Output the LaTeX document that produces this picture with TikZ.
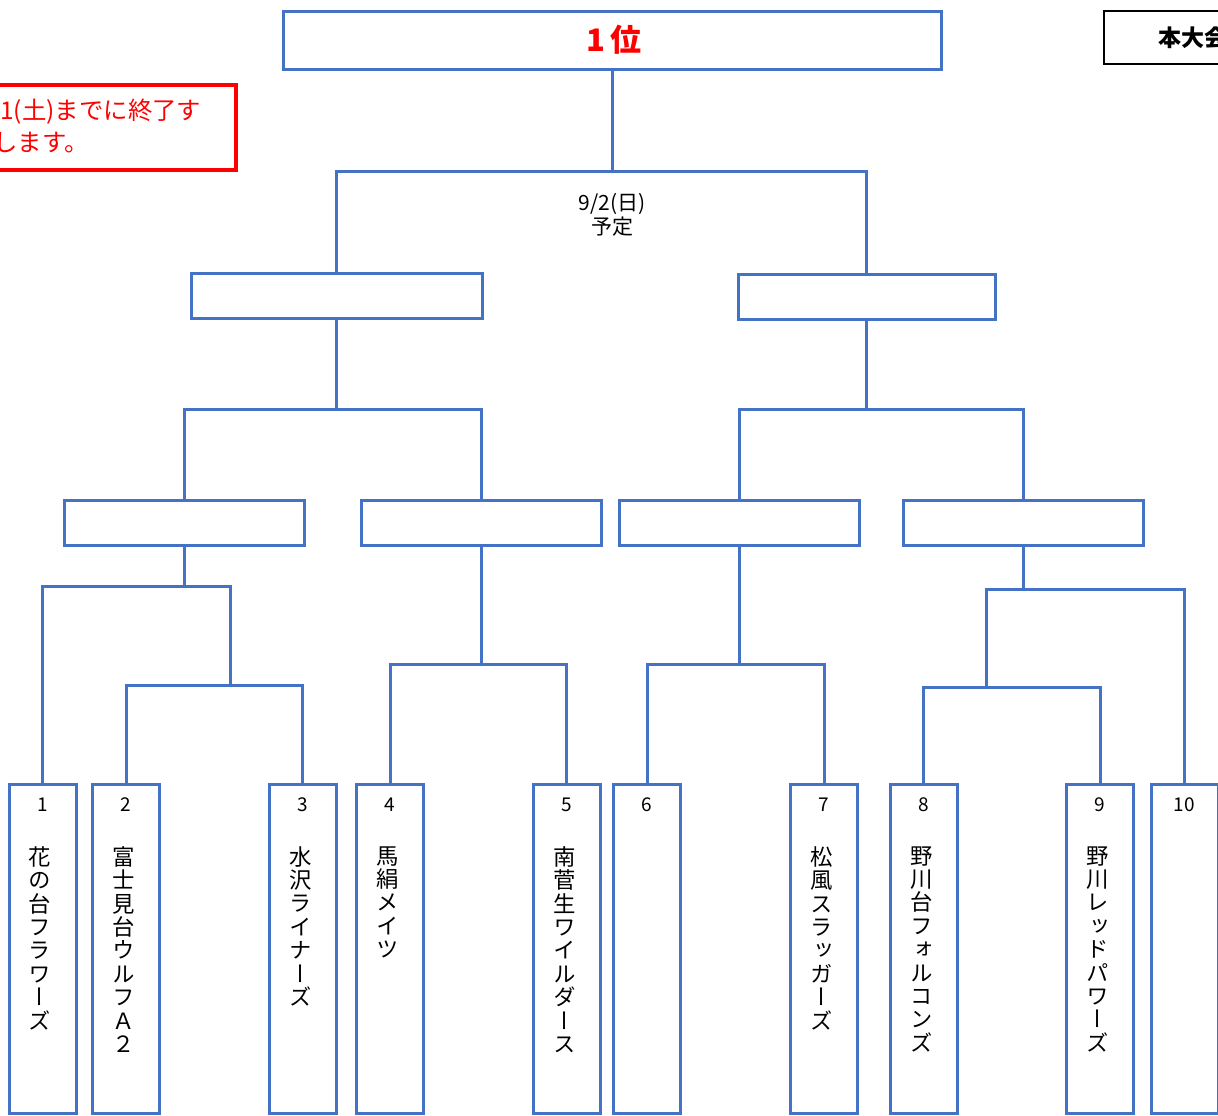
\documentclass[tikz,border=0pt]{standalone}
\usepackage{fontspec}
\setmainfont{Noto Sans CJK JP}
\newfontfamily\vjp[RawFeature=+vert]{Noto Sans CJK JP}
\definecolor{bl}{HTML}{4472C4}
\definecolor{rd}{HTML}{FF0000}
\begin{document}
\begin{tikzpicture}[x=0.5pt,y=-0.5pt,
  box/.style={draw=bl,line width=1.5pt,inner sep=0pt,outer sep=0pt},
  semibox/.style={box,minimum height=22.5pt},
  team/.style={box,minimum width=33.5pt,minimum height=164.5pt},
  conn/.style={draw=bl,line width=1.5pt},
  num/.style={font=\fontsize{9.5}{11}\selectfont,inner sep=0pt},
  tname/.style={font=\vjp\fontsize{11.2}{11.7}\selectfont,align=center,anchor=north,inner sep=0pt}]
\useasboundingbox (0,0) rectangle (1218,1115);
\clip (0,0) rectangle (1218,1115);

% final
\node[box,minimum width=329pt,minimum height=29pt] (top) at (612,40) {};
\node[text=rd,font=\bfseries\fontsize{15.5}{18}\selectfont] (toptxt) at (614,40) {1\,位};

% semifinals
\node[semibox,minimum width=145.5pt] (s1) at (336.5,295.5) {};
\node[semibox,minimum width=128.5pt] (s2) at (866.5,296.5) {};
\node[font=\fontsize{10.5}{12}\selectfont,align=center,inner sep=0pt] (date) at (612,215) {9/2(日)\\予定};

% quarterfinals
\node[semibox,minimum width=120pt] (q1) at (184,522.5) {};
\node[semibox,minimum width=120pt] (q2) at (481,522.5) {};
\node[semibox,minimum width=120pt] (q3) at (739,522.5) {};
\node[semibox,minimum width=120pt] (q4) at (1023,522.5) {};

% teams
\foreach \n/\x in {1/42.5,2/126,3/302.5,4/390,5/566.5,6/647,7/824,8/923.5,9/1100,10/1184.5}{
  \node[team] (t\n) at (\x,948.5) {};
  \node[num] (n\n) at (\x,805) {\n};
}
\node[tname] (nm1) at (40,846) {花\\の\\台\\フ\\ラ\\ワ\\ー\\ズ};
\node[tname] (nm2) at (124,846) {富\\士\\見\\台\\ウ\\ル\\フ\\Ａ\\２};
\node[tname] (nm3) at (300.5,846) {水\\沢\\ラ\\イ\\ナ\\ー\\ズ};
\node[tname] (nm4) at (388,846) {馬\\絹\\メ\\イ\\ツ};
\node[tname] (nm5) at (564.5,846) {南\\菅\\生\\ワ\\イ\\ル\\ダ\\ー\\ス};
\node[tname] (nm7) at (822,846) {松\\風\\ス\\ラ\\ッ\\ガ\\ー\\ズ};
\node[tname] (nm8) at (921.5,846) {野\\川\\台\\フ\\ォ\\ル\\コ\\ン\\ズ};
\node[tname] (nm9) at (1098,846) {野\\川\\レ\\ッ\\ド\\パ\\ワ\\ー\\ズ};

% junction points
\coordinate (d) at (612,171);
\coordinate (c1) at (336.5,409);
\coordinate (c2) at (866.5,409);
\coordinate (a1) at (184,586);
\coordinate (b1) at (230,685);
\coordinate (a2) at (481,664);
\coordinate (a3) at (739,664);
\coordinate (a4) at (1023,589);
\coordinate (b4) at (986,687);

% connectors
\draw[conn] (top.south) -- (d);
\draw[conn] (s1.north) |- (d) -| (s2.north);
\draw[conn] (s1.south) -- (c1);
\draw[conn] (q1.north) |- (c1) -| (q2.north);
\draw[conn] (s2.south) -- (c2);
\draw[conn] (q3.north) |- (c2) -| (q4.north);
\draw[conn] (q1.south) -- (a1);
\draw[conn] (t1.north) |- (a1) -| (b1);
\draw[conn] (t2.north) |- (b1) -| (t3.north);
\draw[conn] (q2.south) -- (a2);
\draw[conn] (t4.north) |- (a2) -| (t5.north);
\draw[conn] (q3.south) -- (a3);
\draw[conn] (t6.north) |- (a3) -| (t7.north);
\draw[conn] (q4.south) -- (a4);
\draw[conn] (t10.north) |- (a4) -| (b4);
\draw[conn] (t8.north) |- (b4) -| (t9.north);

% red note (cut off at left)
\node[draw=rd,line width=2pt,minimum width=128pt,minimum height=42.5pt,inner sep=0pt] (note) at (108,127.5) {};
\node[text=rd,font=\fontsize{12.2}{14}\selectfont,anchor=west,inner sep=0pt] (note1) at (0,112) {1(土)までに終了す};
\node[text=rd,font=\fontsize{12.2}{14}\selectfont,anchor=west,inner sep=0pt] (note2) at (-7,143) {します。};

% black box (cut off at right)
\node[draw=black,line width=1.25pt,minimum width=70pt,minimum height=26.5pt,inner sep=0pt] (main) at (1174,37.5) {};
\node[font=\bfseries\fontsize{11.5}{13}\selectfont,anchor=west,inner sep=0pt] (maintxt) at (1158,38) {本大会};
\end{tikzpicture}
\end{document}
